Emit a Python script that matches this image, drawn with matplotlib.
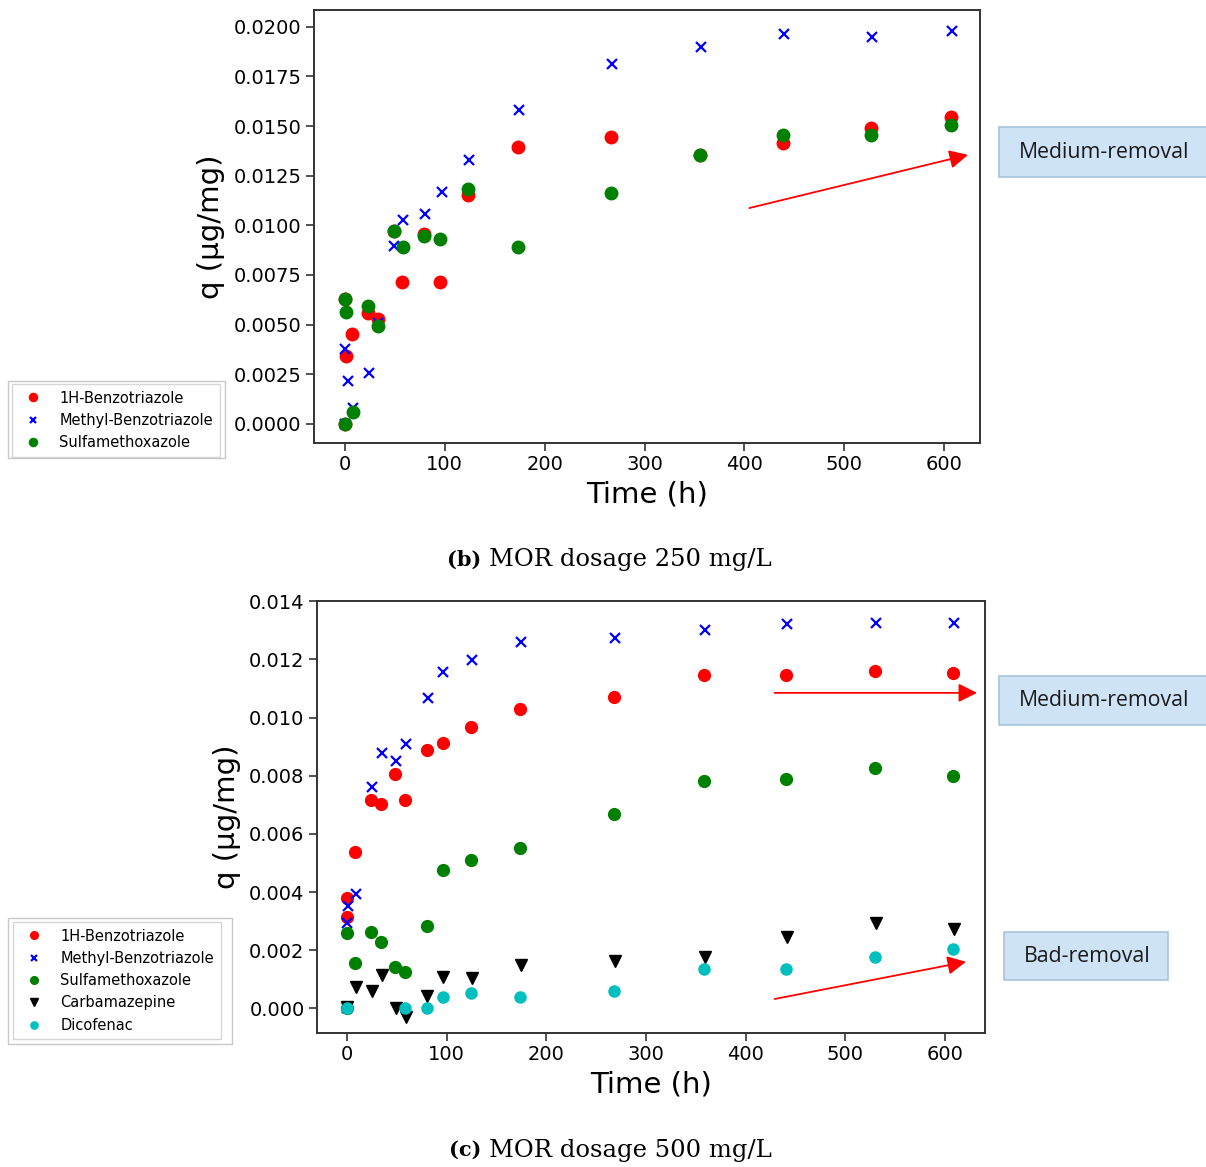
import matplotlib
matplotlib.use("Agg")
import matplotlib.pyplot as plt
from matplotlib.patches import Rectangle

# ---- data, panel (b) MOR 250 mg/L ----
b_benzo_t = [0, 1, 0, 7, 23, 33, 49, 57, 79, 95, 123, 173, 266, 356, 439, 527, 607]
b_benzo_q = [0.0, 0.00339, 0.0063, 0.00453, 0.0056, 0.00527, 0.00972, 0.00712, 0.00957,
             0.00712, 0.01154, 0.01395, 0.01444, 0.01354, 0.01414, 0.0149, 0.01545]
b_methyl_t = [0, 0, 3, 8, 24, 33, 49, 58, 80, 97, 124, 174, 267, 357, 440, 528, 608]
b_methyl_q = [0.0, 0.00376, 0.00217, 0.00079, 0.00255, 0.0051, 0.00898, 0.01028, 0.01058,
              0.01167, 0.0133, 0.01582, 0.01812, 0.01901, 0.01963, 0.01951, 0.01981]
b_sulfa_t = [0, 0, 1, 8, 23, 33, 49, 58, 79, 95, 123, 173, 266, 356, 439, 527, 607]
b_sulfa_q = [0.0, 0.0063, 0.00563, 0.00059, 0.00594, 0.00494, 0.0097, 0.00893, 0.00944,
             0.00932, 0.01184, 0.00893, 0.01165, 0.01354, 0.01456, 0.01454, 0.01505]

# ---- data, panel (c) MOR 500 mg/L ----
c_benzo_t = [0, 0, 8, 24, 34, 48, 58, 80, 96, 124, 174, 268, 358, 440, 530, 608]
c_benzo_q = [0.0038, 0.00313, 0.00538, 0.00716, 0.00702, 0.00805, 0.00716, 0.00887, 0.00914,
             0.00969, 0.01031, 0.01071, 0.01146, 0.01146, 0.0116, 0.01155]
c_methyl_t = [0, 0, 1, 9, 25, 35, 49, 59, 81, 96, 125, 175, 269, 359, 441, 531, 609]
c_methyl_q = [0.0, 0.00292, 0.00352, 0.00393, 0.0076, 0.00878, 0.00849, 0.0091, 0.01069,
              0.01158, 0.01198, 0.0126, 0.01274, 0.01302, 0.01321, 0.01327, 0.01327]
c_sulfa_t = [0, 0, 8, 24, 34, 48, 58, 80, 96, 124, 174, 268, 358, 440, 530, 608]
c_sulfa_q = [0.0, 0.00258, 0.00155, 0.00263, 0.00229, 0.00141, 0.00126, 0.00284, 0.00475,
             0.0051, 0.00552, 0.00669, 0.00783, 0.0079, 0.00825, 0.00798]
c_carba_t = [0, 9, 25, 35, 49, 59, 80, 96, 125, 175, 269, 359, 441, 531, 609]
c_carba_q = [0.00006, 0.00074, 0.0006, 0.00114, 0.0, -0.00031, 0.00042, 0.00109, 0.00103,
             0.00149, 0.00163, 0.00177, 0.00246, 0.00292, 0.00272]
c_dico_t = [0, 58, 80, 96, 124, 174, 268, 358, 440, 530, 608]
c_dico_q = [0.0, 0.0, 0.0, 0.00038, 0.00052, 0.00038, 0.00058, 0.00134, 0.00134, 0.00175, 0.00203]

W, H = 1206, 1167
fig = plt.figure(figsize=(W / 100, H / 100), dpi=100)


def fx(px):
    return px / W


def fy(py):
    return 1 - py / H


def style_axes(ax):
    for s in ax.spines.values():
        s.set_color('#333333')
        s.set_linewidth(1.4)
    ax.tick_params(labelsize=14, length=5.5, width=1.2, color='#333333')
    ax.set_xlabel('Time (h)', fontsize=21)
    ax.set_ylabel('q (μg/mg)', fontsize=21, labelpad=6)


def label_box(x0, y0, x1, y1, text, tx):
    fig.patches.append(Rectangle((fx(x0), fy(y1)), fx(x1) - fx(x0), fy(y0) - fy(y1),
                                 transform=fig.transFigure, facecolor='#cfe3f6',
                                 edgecolor='#a9c3da', lw=1.2))
    fig.text(fx(tx), fy((y0 + y1) / 2), text, ha='left', va='center',
             fontsize=15.3, family='Open Sans', color='#1a1a1a')


def caption(py, tag, rest):
    fig.text(fx(481), fy(py), tag, ha='right', va='center', fontsize=15,
             family='DejaVu Serif', fontweight='bold')
    fig.text(fx(489), fy(py), rest, ha='left', va='center', fontsize=17.5,
             family='DejaVu Serif')


def add_legend(ax, x, y):
    return ax.legend(loc='upper left', bbox_to_anchor=(fx(x), fy(y)),
                     bbox_transform=fig.transFigure, borderaxespad=0, fontsize=10.5,
                     markerscale=0.65, labelspacing=0.5, fancybox=False,
                     edgecolor='#cccccc', handletextpad=0.8, borderpad=0.45)


# ---- panel (b) ----
ax1 = fig.add_axes([fx(314), fy(443), fx(980) - fx(314), fy(10) - fy(443)])
ax1.plot(b_benzo_t, b_benzo_q, 'o', color='red', ms=9, ls='none', label='1H-Benzotriazole')
ax1.plot(b_methyl_t, b_methyl_q, 'x', color='blue', ms=7.5, mew=1.6, ls='none',
         label='Methyl-Benzotriazole')
ax1.plot(b_sulfa_t, b_sulfa_q, 'o', color='green', ms=9, ls='none', label='Sulfamethoxazole')
ax1.set_xlim(-31, 636)
ax1.set_ylim(-0.00097, 0.02085)
style_axes(ax1)
ax1.annotate('', xy=(624, 0.01355), xytext=(405, 0.01087), annotation_clip=False,
             arrowprops=dict(arrowstyle='-|>', color='red', lw=1.3, mutation_scale=28,
                             shrinkA=0, shrinkB=0))
add_legend(ax1, 12, 384)
fig.patches.append(Rectangle((fx(8), fy(458)), fx(225) - fx(8), fy(381) - fy(458),
                             transform=fig.transFigure, fill=False, edgecolor='#c8c8c8', lw=1))
label_box(999, 127, 1207, 177, 'Medium-removal', 1019)
caption(560, '(b)', 'MOR dosage 250 mg/L')

# ---- panel (c) ----
ax2 = fig.add_axes([fx(317), fy(1033), fx(985) - fx(317), fy(601) - fy(1033)])
ax2.plot(c_benzo_t, c_benzo_q, 'o', color='red', ms=8.5, ls='none', label='1H-Benzotriazole')
ax2.plot(c_methyl_t, c_methyl_q, 'x', color='blue', ms=7.5, mew=1.6, ls='none',
         label='Methyl-Benzotriazole')
ax2.plot(c_sulfa_t, c_sulfa_q, 'o', color='green', ms=8.5, ls='none', label='Sulfamethoxazole')
ax2.plot(c_carba_t, c_carba_q, 'v', color='black', ms=8, ls='none', label='Carbamazepine')
ax2.plot(c_dico_t, c_dico_q, 'o', color='#00bfbf', ms=8, ls='none', label='Dicofenac')
ax2.set_xlim(-30, 640)
ax2.set_ylim(-0.00085, 0.01401)
style_axes(ax2)
ax2.annotate('', xy=(632, 0.01085), xytext=(429, 0.01085), annotation_clip=False,
             arrowprops=dict(arrowstyle='-|>', color='red', lw=1.3, mutation_scale=28,
                             shrinkA=0, shrinkB=0))
ax2.annotate('', xy=(621, 0.0016), xytext=(429, 0.00032), annotation_clip=False,
             arrowprops=dict(arrowstyle='-|>', color='red', lw=1.3, mutation_scale=28,
                             shrinkA=0, shrinkB=0))
add_legend(ax2, 13, 922)
fig.patches.append(Rectangle((fx(8), fy(1044)), fx(232) - fx(8), fy(918) - fy(1044),
                             transform=fig.transFigure, fill=False, edgecolor='#c8c8c8', lw=1))
label_box(999, 676, 1207, 725, 'Medium-removal', 1019)
label_box(1004, 932, 1168, 980, 'Bad-removal', 1024)
caption(1150, '(c)', 'MOR dosage 500 mg/L')

fig.savefig('out.png', dpi=100)
